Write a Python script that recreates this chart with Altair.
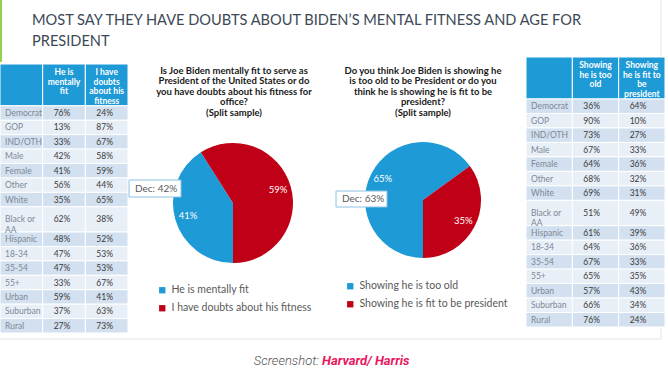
import math
import altair as alt
import pandas as pd

# ---------------- data ----------------
title_text = "MOST SAY THEY HAVE DOUBTS ABOUT BIDEN’S MENTAL FITNESS AND AGE FOR\nPRESIDENT"

groups = ["Democrat", "GOP", "IND/OTH", "Male", "Female", "Other", "White",
          "Black or AA", "Hispanic", "18-34", "35-54", "55+", "Urban",
          "Suburban", "Rural"]
mentally_fit = [76, 13, 33, 42, 41, 56, 35, 62, 48, 47, 47, 33, 59, 37, 27]
have_doubts = [24, 87, 67, 58, 59, 44, 65, 38, 52, 53, 53, 67, 41, 63, 73]
too_old = [36, 90, 73, 67, 64, 68, 69, 51, 61, 64, 67, 65, 57, 66, 76]
fit_president = [64, 10, 27, 33, 36, 32, 31, 49, 39, 36, 33, 35, 43, 34, 24]

left_headers = ["", "He is\nmentally\nfit", "I have\ndoubts\nabout his\nfitness"]
right_headers = ["", "Showing\nhe is too\nold", "Showing\nhe is fit to\nbe\npresident"]

q1_title = ("Is Joe Biden mentally fit to serve as\nPresident of the United States or do\n"
            "you have doubts about his fitness for\noffice?\n(Split sample)")
q1_answers = ["He is mentally fit", "I have doubts about his fitness"]
q1_values = [41, 59]
q1_dec = "Dec: 42%"

q2_title = ("Do you think Joe Biden is showing he\nis too old to be President or do you\n"
            "think he is showing he is fit to be\npresident?\n(Split sample)")
q2_answers = ["Showing he is too old", "Showing he is fit to be president"]
q2_values = [65, 35]
q2_dec = "Dec: 63%"

caption_prefix = "Screenshot:"
caption_source = "Harvard/ Harris"

# ---------------- style ----------------
FONT = "Lato"
BLUE = "#1e9ad6"
RED = "#c00016"
ROW_DARK = "#d2e0ef"
ROW_LIGHT = "#e9eff7"
HEADER_UNITS = 2.9


def wrap(label):
    if len(label) > 9 and " " in label:
        i = label.rfind(" ")
        return label[:i] + "\n" + label[i + 1:]
    return label


def table(col_a, col_b, headers, x_range, y_range):
    heights = [1.75 if "\n" in wrap(g) else 1.0 for g in groups]
    total = sum(heights)
    cells, head, labels, vals = [], [], [], []
    for c in range(3):
        cells.append(dict(x0=c, x1=c + 1, y0=-HEADER_UNITS, y1=0, shade="header"))
        head.append(dict(xc=c + 0.5, y0=-HEADER_UNITS, text=headers[c]))
    y = 0.0
    for i, g in enumerate(groups):
        h = heights[i]
        shade = "dark" if i % 2 == 0 else "light"
        for c in range(3):
            cells.append(dict(x0=c, x1=c + 1, y0=y, y1=y + h, shade=shade))
        labels.append(dict(x0=0, ym=y + h / 2, text=wrap(g)))
        vals.append(dict(x0=1, ym=y + h / 2, text=f"{col_a[i]}%"))
        vals.append(dict(x0=2, ym=y + h / 2, text=f"{col_b[i]}%"))
        y += h
    xs = alt.Scale(domain=[0, 3], range=x_range, nice=False, zero=False)
    ys = alt.Scale(domain=[-HEADER_UNITS, total], range=y_range, nice=False, zero=False)

    rects = alt.Chart(pd.DataFrame(cells)).mark_rect(stroke="white", strokeWidth=1).encode(
        x=alt.X("x0:Q", scale=xs, axis=None), x2="x1:Q",
        y=alt.Y("y0:Q", scale=ys, axis=None), y2="y1:Q",
        fill=alt.Fill("shade:N", scale=alt.Scale(domain=["header", "dark", "light"],
                                                 range=[BLUE, ROW_DARK, ROW_LIGHT]), legend=None),
    )
    htext = alt.Chart(pd.DataFrame(head)).mark_text(
        align="center", baseline="top", dy=4, lineBreak="\n", lineHeight=9.5,
        font=FONT, fontSize=8.5, fontWeight="bold", color="white").encode(
        x=alt.X("xc:Q", scale=xs, axis=None), y=alt.Y("y0:Q", scale=ys, axis=None), text="text:N")
    ltext = alt.Chart(pd.DataFrame(labels)).mark_text(
        align="left", baseline="middle", dx=5, lineBreak="\n", lineHeight=10.5,
        font=FONT, fontSize=8.5, color="#7d8896").encode(
        x=alt.X("x0:Q", scale=xs, axis=None), y=alt.Y("ym:Q", scale=ys, axis=None), text="text:N")
    vtext = alt.Chart(pd.DataFrame(vals)).mark_text(
        align="left", baseline="middle", dx=11,
        font=FONT, fontSize=8.5, color="#3a3a3a").encode(
        x=alt.X("x0:Q", scale=xs, axis=None), y=alt.Y("ym:Q", scale=ys, axis=None), text="text:N")
    return alt.layer(rects, htext, ltext, vtext)


def pie(answers, values, cx, cy, r, lx, ly):
    df = pd.DataFrame({"answer": answers, "value": values, "order": list(range(len(values)))})
    df["label"] = df["value"].astype(str) + "%"
    theta = alt.Theta("value:Q", stack=True, scale=alt.Scale(range=[math.pi, 3 * math.pi]))
    arc = alt.Chart(df).mark_arc(outerRadius=r).encode(
        theta=theta, order=alt.Order("order:Q"),
        color=alt.Color("answer:N", scale=alt.Scale(domain=answers, range=[BLUE, RED]),
                        legend=alt.Legend(orient="none", legendX=lx, legendY=ly, title=None,
                                          symbolType="square", symbolSize=40, symbolStrokeWidth=0,
                                          labelFont=FONT, labelFontSize=10.5, labelColor="#595959",
                                          rowPadding=7, labelOffset=4, padding=0)),
        x=alt.value(cx), y=alt.value(cy),
    )
    txt = alt.Chart(df).mark_text(radius=r * 0.78, font=FONT, fontSize=9.5, color="white").encode(
        theta=theta, order=alt.Order("order:Q"), text="label:N",
        x=alt.value(cx), y=alt.value(cy),
    )
    return alt.layer(arc, txt)


def dec_box(label, x0, x1, y0, y1):
    d = pd.DataFrame({"t": [label]})
    box = alt.Chart(d).mark_rect(fill="white", stroke="#8cc3e3", strokeWidth=1).encode(
        x=alt.value(x0), x2=alt.value(x1), y=alt.value(y0), y2=alt.value(y1))
    t = alt.Chart(d).mark_text(align="left", baseline="middle", font=FONT, fontSize=10,
                               color="#595959").encode(
        x=alt.value(x0 + 6), y=alt.value((y0 + y1) / 2), text="t:N")
    return alt.layer(box, t)


one = pd.DataFrame({"t": [""]})

green = alt.Chart(one).mark_rule(color="#92d050", strokeWidth=2).encode(
    x=alt.value(1), y=alt.value(0), y2=alt.value(62))
frame_r = alt.Chart(one).mark_rule(color="#e3e3e3", strokeWidth=1).encode(
    x=alt.value(661), y=alt.value(0), y2=alt.value(339))
frame_b = alt.Chart(one).mark_rule(color="#e3e3e3", strokeWidth=1).encode(
    x=alt.value(0), x2=alt.value(661), y=alt.value(339))

title = alt.Chart(pd.DataFrame({"t": [title_text]})).mark_text(
    align="left", baseline="alphabetic", lineBreak="\n", lineHeight=21,
    font=FONT, fontSize=14.6, color="#3d4956").encode(
    x=alt.value(32), y=alt.value(25), text="t:N")

q1 = alt.Chart(pd.DataFrame({"t": [q1_title]})).mark_text(
    align="center", baseline="top", lineBreak="\n", lineHeight=10.4,
    font=FONT, fontSize=9.5, fontWeight="bold", color="#1a1a1a").encode(
    x=alt.value(234), y=alt.value(66), text="t:N")
q2 = alt.Chart(pd.DataFrame({"t": [q2_title]})).mark_text(
    align="center", baseline="top", lineBreak="\n", lineHeight=10.4,
    font=FONT, fontSize=9.5, fontWeight="bold", color="#1a1a1a").encode(
    x=alt.value(423), y=alt.value(66), text="t:N")

cap1 = alt.Chart(pd.DataFrame({"t": [caption_prefix]})).mark_text(
    align="right", baseline="middle", font="Roboto", fontSize=13, fontStyle="italic",
    fontWeight=300, color="#555555").encode(x=alt.value(319), y=alt.value(361), text="t:N")
cap2 = alt.Chart(pd.DataFrame({"t": [caption_source]})).mark_text(
    align="left", baseline="middle", font="Roboto", fontSize=13, fontStyle="italic",
    fontWeight="bold", color="#e8195e").encode(x=alt.value(322), y=alt.value(361), text="t:N")

left_table = table(mentally_fit, have_doubts, left_headers, [0, 128], [64, 333])
right_table = table(too_old, fit_president, right_headers, [526, 665], [57, 327])

pie1 = pie(q1_answers, q1_values, 233, 203, 60, 157, 285)
pie2 = pie(q2_answers, q2_values, 423, 200, 58, 345, 281)

chart = alt.layer(
    frame_r, frame_b, green, left_table, right_table, pie1, pie2,
    dec_box(q1_dec, 129, 181, 180, 197), dec_box(q2_dec, 336, 387, 191, 207),
    title, q1, q2, cap1, cap2,
).resolve_scale(
    x="independent", y="independent", color="independent", fill="independent", theta="independent"
).properties(
    width=668, height=378, padding=0, autosize="none", background="white"
).configure_view(stroke=None)

chart.save("out.html", embed_options={"renderer": "svg", "actions": False})
